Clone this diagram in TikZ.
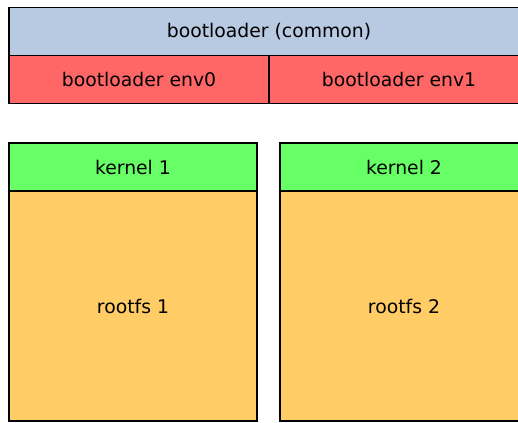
\documentclass[tikz,border=0pt]{standalone}
\usepackage{fontspec}
\setmainfont{DejaVu Sans}
\usetikzlibrary{positioning}
\definecolor{BootBlue}{RGB}{184,201,226}
\definecolor{EnvRed}{RGB}{255,102,102}
\definecolor{KernGreen}{RGB}{102,255,102}
\definecolor{RootOrange}{RGB}{255,204,102}

\begin{document}
\begin{tikzpicture}[x=1pt,y=-1pt,
    part/.style={draw=black,line width=1.2pt,inner sep=0pt,minimum height=48pt,
      font=\fontsize{18.8}{22}\selectfont}]
    \clip (0,0) rectangle (518,422);
    \node[part,fill=BootBlue,minimum width=520pt] (common) at (269,31.5) {bootloader (common)};
    \node[part,fill=EnvRed,minimum width=260pt] (envzero) at (139,79.5) {bootloader env0};
    \node[part,fill=EnvRed,minimum width=260pt] (envone) at (399,79.5) {bootloader env1};
    \node[part,fill=KernGreen,minimum width=248pt] (kernone) at (133,167) {kernel 1};
    \node[part,fill=RootOrange,minimum width=248pt,minimum height=230pt] (rootone) at (133,306) {rootfs 1};
    \node[part,fill=KernGreen,minimum width=248pt] (kerntwo) at (404,167) {kernel 2};
    \node[part,fill=RootOrange,minimum width=248pt,minimum height=230pt] (roottwo) at (404,306) {rootfs 2};
  \end{tikzpicture}
\end{document}
